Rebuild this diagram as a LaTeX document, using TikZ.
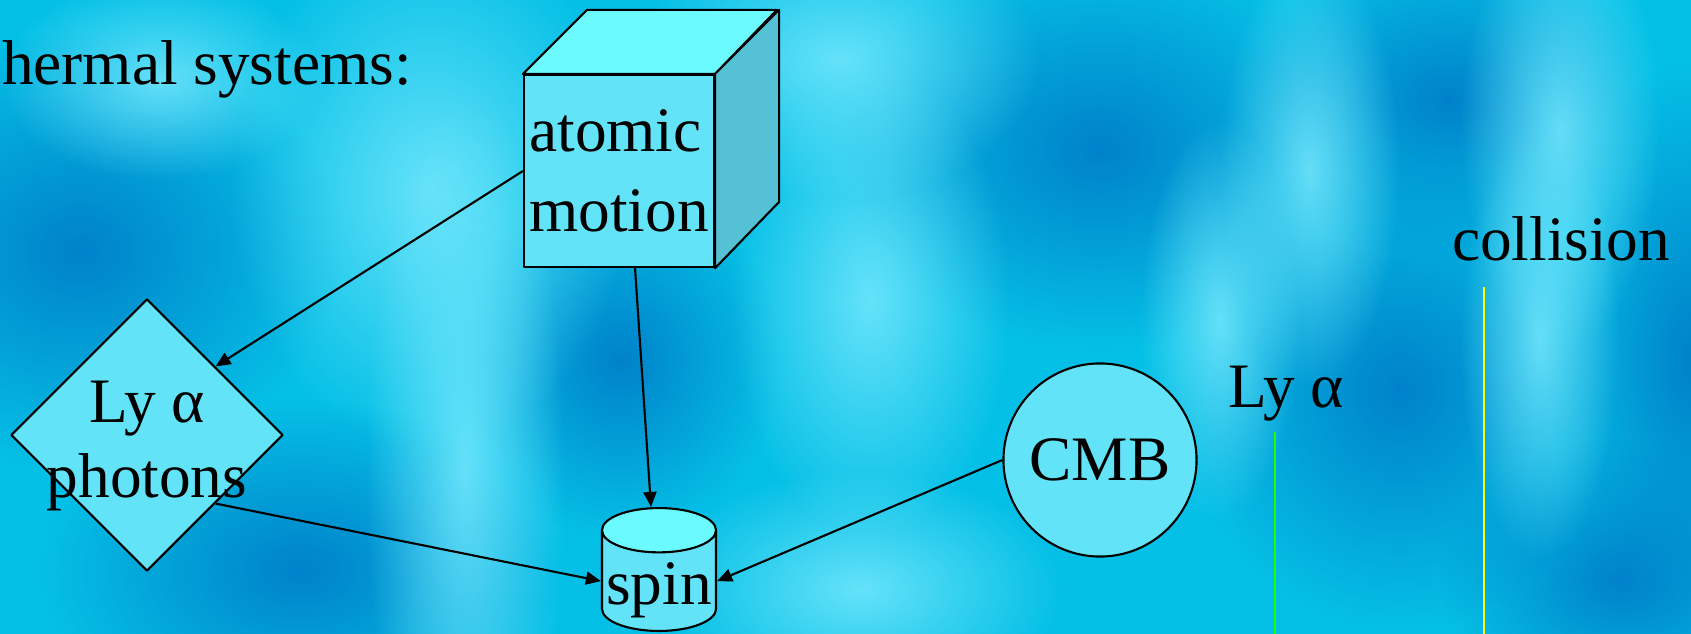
\documentclass[tikz,border=0pt]{standalone}
\usepackage{fontspec}
\setmainfont{Liberation Serif}
\usetikzlibrary{shapes.geometric,arrows.meta,fadings}
\definecolor{bgbase}{RGB}{5,192,230}
\definecolor{bgdark}{RGB}{0,130,202}
\definecolor{bglight}{RGB}{125,235,255}
\definecolor{nodefill}{RGB}{99,227,248}
\definecolor{nodetop}{RGB}{107,250,255}
\definecolor{nodeside}{RGB}{85,193,213}
\definecolor{lyagreen}{RGB}{30,255,0}
\definecolor{colyellow}{RGB}{255,255,0}
\tikzfading[name=softblob,inner color=transparent!0,outer color=transparent!100]
\begin{document}
\begin{tikzpicture}[x=0.01cm,y=-0.01cm,line join=round,>={Triangle[length=0.15cm,width=0.13cm]},line width=0.6pt]
	\tikzset{every node/.style={font=\fontsize{18}{21.6}\selectfont,inner sep=0pt},
		shapebox/.style={draw,fill=nodefill}}
	\useasboundingbox (0,0) rectangle (1691,634);
	\begin{scope}
		\clip (0,0) rectangle (1691,634);
		\fill[bgbase] (0,0) rectangle (1691,634);
		% water pattern
		\foreach \x/\y/\a/\b in {80/250/260/220,300/570/260/170,620/360/160/180,1100/150/260/200,1447/100/200/160,1400/390/220/240,1690/360/140/300,1620/580/180/140}
			\fill[bgdark,path fading=softblob] (\x,\y) ellipse ({\a} and {\b});
		\foreach \x/\y/\a/\b in {430/190/200/260,465/470/100/380,840/60/200/140,870/300/140/240,860/590/200/120,1310/170/90/220,1560/130/100/220,1220/320/80/200,1540/340/80/220,160/80/160/100}
			\fill[bglight,path fading=softblob,opacity=0.8] (\x,\y) ellipse ({\a} and {\b});
	\end{scope}
	\node[anchor=base west] (thermal) at (1,85) {hermal systems:};
	% cube
	\node[shapebox,minimum width=1.9cm,minimum height=1.92cm,align=left] (cube) at (619,171) {atomic\\[0.04cm]motion};
	\draw[fill=nodetop] (cube.north west) -- ++(64,-64) -- ++(190,0) -- (cube.north east) -- cycle;
	\draw[fill=nodeside] (cube.north east) -- ++(64,-64) -- ++(0,192) -- (cube.south east) -- cycle;
	\node[shapebox,diamond,minimum width=2.72cm,minimum height=2.72cm] (lya) at (147,435) {};
	\node[align=center] (lyatext) at (147,446) {Ly α\\photons};
	\node[draw,cylinder,shape border rotate=90,aspect=0.42,minimum width=1.14cm,minimum height=1.1cm,anchor=north,cylinder uses custom fill,cylinder body fill=nodefill,cylinder end fill=nodetop] (spin) at (659,507) {\raisebox{-0.09cm}[\height][\depth]{spin}};
	\node[shapebox,circle,minimum size=1.93cm] (cmb) at (1100,460) {CMB};
	\draw[->] (cube.west) -- (lya.north east);
	\draw[->] ([xshift=0.16cm]cube.south) -- ([xshift=-0.08cm]spin.north);
	\draw[->] (lya.south east) -- (spin.west);
	\draw[->] (cmb.west) -- (spin.east);
	% transitions
	\node[anchor=base west] (lyalabel) at (1227,408) {Ly α};
	\node[anchor=base west] (collision) at (1451,261) {collision};
	\coordinate (lyatop) at (1275,432); \coordinate (lyaend) at (1275,634);
	\coordinate (coltop) at (1484,287); \coordinate (colend) at (1484,634);
	\draw[lyagreen,line width=0.45pt] (lyatop) -- (lyaend);
	\draw[colyellow,line width=0.45pt] (coltop) -- (colend);
\end{tikzpicture}
\end{document}
